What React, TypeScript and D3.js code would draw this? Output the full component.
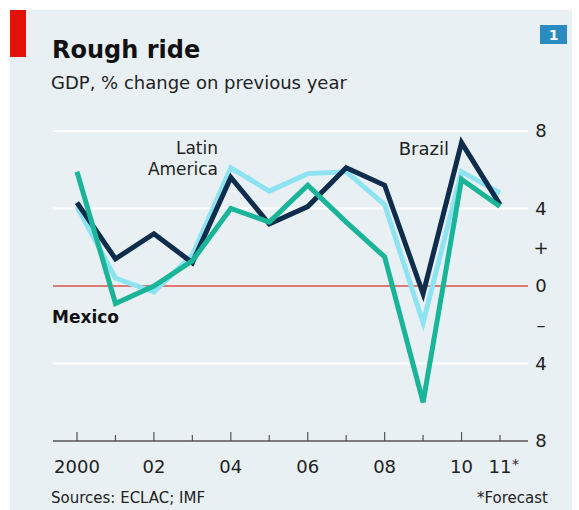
import React from "react";
import * as d3 from "d3";

const years = [2000, 2001, 2002, 2003, 2004, 2005, 2006, 2007, 2008, 2009, 2010, 2011];
const latinAmerica = [4.1, 0.4, -0.3, 1.6, 6.1, 4.9, 5.8, 5.9, 4.2, -1.9, 5.9, 4.8];
const brazil = [4.3, 1.4, 2.7, 1.2, 5.6, 3.2, 4.1, 6.1, 5.2, -0.4, 7.4, 4.2];
const mexico = [5.9, -0.9, 0.0, 1.3, 4.0, 3.3, 5.2, 3.3, 1.5, -6.0, 5.5, 4.1];

const yTickValues = [8, 4, 2, 0, -2, -4, -8];
const yTickLabels = ["8", "4", "+", "0", "–", "4", "8"];
const gridValues = [8, 4, -4];
const xLabelYears = [2000, 2002, 2004, 2006, 2008, 2010, 2011];
const xLabels = ["2000", "02", "04", "06", "08", "10", "11"];

const W = 579;
const H = 510;
const FONT = "'DejaVu Sans', 'Open Sans', sans-serif";

export default function App() {
  const x = d3.scaleLinear().domain([2000, 2011]).range([77, 500]);
  const y = d3.scaleLinear().domain([-8, 8]).range([441, 131]);
  const line = d3
    .line<number>()
    .x((_, i) => x(years[i]))
    .y((d) => y(d));

  const series = [
    { values: latinAmerica, color: "#8ee3f2" },
    { values: brazil, color: "#0e2d4c" },
    { values: mexico, color: "#1ab498" },
  ];

  return (
    <svg
      width={W}
      height={H}
      style={{ position: "absolute", left: 0, top: 0 }}
      fontFamily={FONT}
    >
      <rect x={0} y={0} width={W} height={H} fill="#ffffff" />
      <rect x={10} y={10} width={562} height={500} fill="#e9f0f4" />
      <rect x={10} y={10} width={16} height={47} fill="#e3120b" />
      <rect x={540} y={25} width={27} height={19} fill="#2a8bbf" />
      <text x={553.5} y={40} textAnchor="middle" fill="#ffffff" fontSize={14} fontWeight={700}>
        1
      </text>

      <text x={52} y={58} fontSize={24} fontWeight={700} fill="#111">
        Rough ride
      </text>
      <text x={51} y={89} fontSize={18} fill="#222">
        GDP, % change on previous year
      </text>

      {gridValues.map((v) => (
        <line key={v} x1={53} x2={528} y1={y(v)} y2={y(v)} stroke="#ffffff" strokeWidth={2} />
      ))}
      <line x1={53} x2={528} y1={y(0)} y2={y(0)} stroke="#d9534f" strokeWidth={1.5} />
      <line x1={53} x2={528} y1={y(-8)} y2={y(-8)} stroke="#555" strokeWidth={1.5} />

      {years.map((yr) => (
        <line
          key={yr}
          x1={x(yr)}
          x2={x(yr)}
          y1={y(-8)}
          y2={y(-8) - (yr % 2 === 0 ? 9 : 6)}
          stroke="#555"
          strokeWidth={1.2}
        />
      ))}

      {yTickValues.map((v, i) => (
        <text
          key={i}
          x={541}
          y={y(v)}
          dy="0.36em"
          textAnchor="middle"
          fontSize={18}
          fill="#222"
        >
          {yTickLabels[i]}
        </text>
      ))}

      {xLabelYears.map((yr, i) => (
        <text key={yr} x={x(yr)} y={473} textAnchor="middle" fontSize={18} fill="#222">
          {xLabels[i]}
        </text>
      ))}
      <text x={x(2011) + 12} y={469} fontSize={14} fill="#222">
        *
      </text>

      {series.map((s, i) => (
        <path
          key={i}
          d={line(s.values) || ""}
          fill="none"
          stroke={s.color}
          strokeWidth={5}
          strokeLinejoin="miter"
          strokeLinecap="butt"
        />
      ))}

      <text x={218} y={154} textAnchor="end" fontSize={17} fill="#222">
        Latin
      </text>
      <text x={218} y={175} textAnchor="end" fontSize={17} fill="#222">
        America
      </text>
      <text x={449} y={155} textAnchor="end" fontSize={18} fill="#222">
        Brazil
      </text>
      <text x={52} y={323} fontSize={17} fontWeight={700} fill="#111">
        Mexico
      </text>

      <text x={51} y={503} fontSize={15} fill="#222">
        Sources: ECLAC; IMF
      </text>
      <text x={548} y={503} textAnchor="end" fontSize={15} fill="#222">
        *Forecast
      </text>
    </svg>
  );
}
